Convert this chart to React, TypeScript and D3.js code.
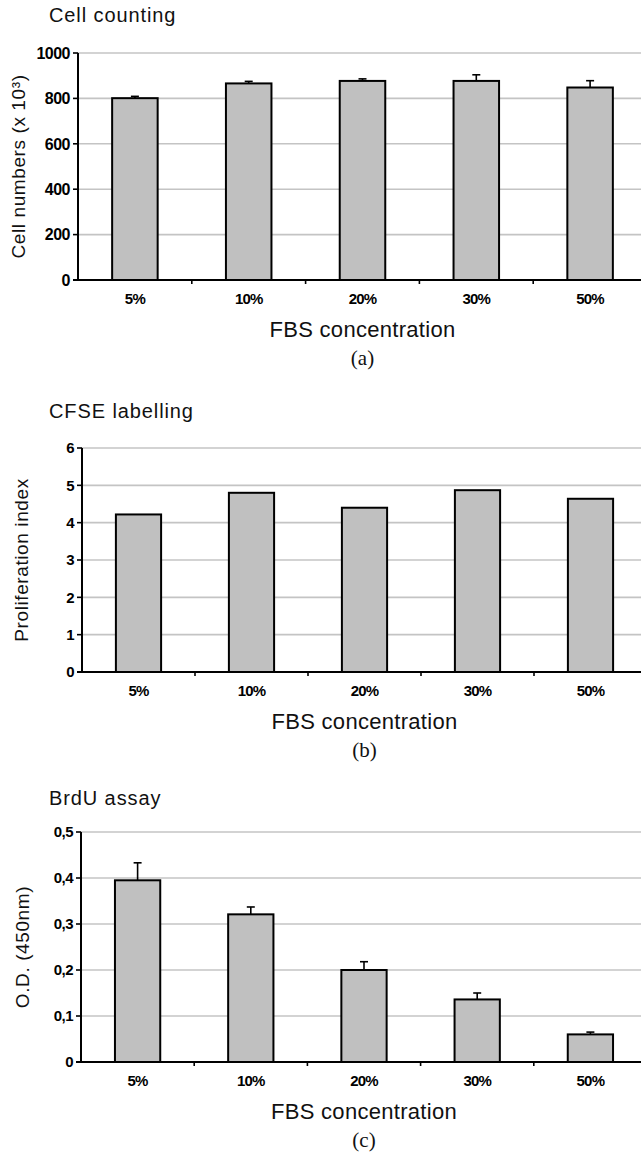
import { useRef, useEffect } from "react";
import * as d3 from "d3";

// categories and values
const categories = ["5%", "10%", "20%", "30%", "50%"];

const cellCounts = [801, 866, 877, 877, 848];
const cellCountErr = [8, 9, 9, 27, 30];
const cellTicks = [0, 200, 400, 600, 800, 1000];

const prolifIndex = [4.22, 4.8, 4.4, 4.87, 4.64];
const prolifTicks = [0, 1, 2, 3, 4, 5, 6];

const odValues = [0.395, 0.321, 0.2, 0.136, 0.06];
const odErr = [0.038, 0.016, 0.018, 0.014, 0.005];
const odTicks = [0, 0.1, 0.2, 0.3, 0.4, 0.5];

const W = 641;
const H = 1154;
const SANS = "'Liberation Sans', Arial, sans-serif";
const SERIF = "'Liberation Serif', 'Times New Roman', serif";

const App = () => {
  const svgRef = useRef(null);

  useEffect(() => {
    const svg = d3.select(svgRef.current);
    svg.selectAll("*").remove();

    const panels = [
      {
        title: "Cell counting",
        titleY: 22,
        yLabel: "Cell numbers (x 10³)",
        yLabelX: 18,
        caption: "(a)",
        left: 78,
        top: 53,
        bottom: 280,
        ticks: cellTicks,
        values: cellCounts,
        errors: cellCountErr,
        tickSize: 16,
        fmt: (d) => String(d),
      },
      {
        title: "CFSE labelling",
        titleY: 418,
        yLabel: "Proliferation index",
        yLabelX: 21,
        caption: "(b)",
        left: 82,
        top: 448,
        bottom: 672,
        ticks: prolifTicks,
        values: prolifIndex,
        errors: null,
        tickSize: 15,
        fmt: (d) => String(d),
      },
      {
        title: "BrdU assay",
        titleY: 805,
        yLabel: "O.D. (450nm)",
        yLabelX: 22,
        caption: "(c)",
        left: 81,
        top: 832,
        bottom: 1062,
        ticks: odTicks,
        values: odValues,
        errors: odErr,
        tickSize: 15,
        fmt: (d) => (d === 0 ? "0" : d3.format(".1f")(d).replace(".", ",")),
      },
    ];

    const right = 647;

    panels.forEach((p) => {
      const g = svg.append("g");
      const x = d3
        .scaleBand()
        .domain(categories)
        .range([p.left, right])
        .paddingInner(0.6)
        .paddingOuter(0.3);
      const y = d3
        .scaleLinear()
        .domain([0, d3.max(p.ticks)])
        .range([p.bottom, p.top]);

      // gridlines
      g.selectAll(".grid")
        .data(p.ticks.filter((t) => t > 0))
        .enter()
        .append("line")
        .attr("x1", p.left)
        .attr("x2", right)
        .attr("y1", (d) => y(d))
        .attr("y2", (d) => y(d))
        .attr("stroke", "#c4c4c4")
        .attr("stroke-width", 1.6);

      // bars
      g.selectAll(".bar")
        .data(p.values)
        .enter()
        .append("rect")
        .attr("x", (d, i) => x(categories[i]))
        .attr("y", (d) => y(d))
        .attr("width", x.bandwidth())
        .attr("height", (d) => p.bottom - y(d))
        .attr("fill", "#c0c0c0")
        .attr("stroke", "#000")
        .attr("stroke-width", 2);

      // error bars (upper only)
      if (p.errors) {
        p.values.forEach((v, i) => {
          const cx = x(categories[i]) + x.bandwidth() / 2;
          const yTop = y(v + p.errors[i]);
          g.append("line")
            .attr("x1", cx)
            .attr("x2", cx)
            .attr("y1", y(v))
            .attr("y2", yTop)
            .attr("stroke", "#000")
            .attr("stroke-width", 1.6);
          g.append("line")
            .attr("x1", cx - 4)
            .attr("x2", cx + 4)
            .attr("y1", yTop)
            .attr("y2", yTop)
            .attr("stroke", "#000")
            .attr("stroke-width", 1.6);
        });
      }

      // y axis
      g.append("line")
        .attr("x1", p.left)
        .attr("x2", p.left)
        .attr("y1", p.top)
        .attr("y2", p.bottom)
        .attr("stroke", "#000")
        .attr("stroke-width", 2);
      g.selectAll(".ytick")
        .data(p.ticks)
        .enter()
        .append("line")
        .attr("x1", p.left - 5)
        .attr("x2", p.left)
        .attr("y1", (d) => y(d))
        .attr("y2", (d) => y(d))
        .attr("stroke", "#000")
        .attr("stroke-width", 1.6);
      g.selectAll(".ylab")
        .data(p.ticks)
        .enter()
        .append("text")
        .attr("x", p.left - 8)
        .attr("y", (d) => y(d))
        .attr("dy", "0.36em")
        .attr("text-anchor", "end")
        .attr("font-family", SANS)
        .attr("font-weight", "bold")
        .attr("font-size", p.tickSize)
        .attr("letter-spacing", -0.5)
        .text((d) => p.fmt(d));

      // x axis
      g.append("line")
        .attr("x1", p.left - 5)
        .attr("x2", right)
        .attr("y1", p.bottom)
        .attr("y2", p.bottom)
        .attr("stroke", "#000")
        .attr("stroke-width", 2);
      g.selectAll(".xtick")
        .data(categories.slice(1))
        .enter()
        .append("line")
        .attr("x1", (d) => x(d) - (x.step() - x.bandwidth()) / 2)
        .attr("x2", (d) => x(d) - (x.step() - x.bandwidth()) / 2)
        .attr("y1", p.bottom)
        .attr("y2", p.bottom + 4)
        .attr("stroke", "#000")
        .attr("stroke-width", 1.6);
      g.selectAll(".xlab")
        .data(categories)
        .enter()
        .append("text")
        .attr("x", (d) => x(d) + x.bandwidth() / 2)
        .attr("y", p.bottom + 24)
        .attr("text-anchor", "middle")
        .attr("font-family", SANS)
        .attr("font-weight", "bold")
        .attr("font-size", 15)
        .attr("letter-spacing", -0.8)
        .text((d) => d);

      const midX = (p.left + right) / 2;

      // titles and labels
      g.append("text")
        .attr("x", 49)
        .attr("y", p.titleY)
        .attr("font-family", SANS)
        .attr("font-size", 20)
        .attr("letter-spacing", 0.9)
        .attr("fill", "#111")
        .text(p.title);

      g.append("text")
        .attr("transform", `translate(${p.yLabelX},${(p.top + p.bottom) / 2}) rotate(-90)`)
        .attr("text-anchor", "middle")
        .attr("dy", "0.36em")
        .attr("font-family", SANS)
        .attr("font-size", 19)
        .attr("letter-spacing", 0.6)
        .attr("fill", "#111")
        .text(p.yLabel);

      g.append("text")
        .attr("x", midX)
        .attr("y", p.bottom + 57)
        .attr("text-anchor", "middle")
        .attr("font-family", SANS)
        .attr("font-size", 22)
        .attr("letter-spacing", 0.3)
        .attr("fill", "#111")
        .text("FBS concentration");

      g.append("text")
        .attr("x", midX)
        .attr("y", p.bottom + 85)
        .attr("text-anchor", "middle")
        .attr("font-family", SERIF)
        .attr("font-size", 21)
        .attr("fill", "#111")
        .text(p.caption);
    });
  }, []);

  return (
    <svg
      ref={svgRef}
      width={W}
      height={H}
      style={{ position: "absolute", left: 0, top: 0, display: "block", background: "#fff" }}
    ></svg>
  );
};

export default App;
